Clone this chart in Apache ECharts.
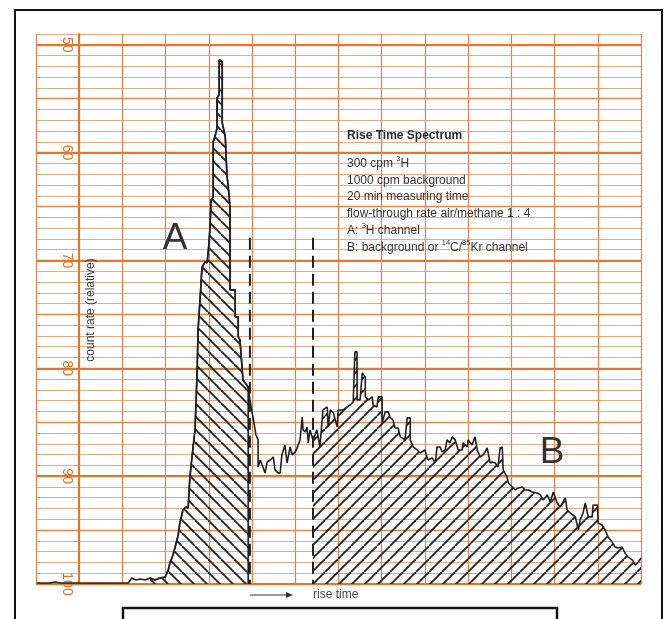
<!DOCTYPE html>
<html>
<head>
<meta charset="utf-8">
<script src="https://cdn.jsdelivr.net/npm/echarts@6/dist/echarts.min.js"></script>
<style>
  html, body { margin: 0; background: #fff; }
  #chart { width: 672px; height: 619px; }
</style>
</head>
<body>
<div id="chart"></div>
<script>
// rise time (chart divisions) / count rate (relative, recorder scale 50..100)
const traceX = [0.02, 0.32, 0.44, 0.56, 1.25, 2.13, 2.22, 2.31, 2.41, 2.52, 2.64, 2.75, 2.87, 2.99, 3.06, 3.10, 3.17, 3.22, 3.29, 3.33,
  3.40, 3.47, 3.52, 3.56, 3.61, 3.68, 3.73, 3.75, 3.80, 3.84, 3.91, 3.96, 4.00, 4.03, 4.05, 4.10, 4.10, 4.14, 4.19, 4.19,
  4.24, 4.24, 4.28, 4.31, 4.31, 4.38, 4.42, 4.44, 4.49, 4.49, 4.61, 4.61, 4.68, 4.68, 4.72, 4.79, 4.91, 4.95, 5.02, 5.09,
  5.14, 5.14, 5.19, 5.25, 5.30, 5.35, 5.42, 5.49, 5.53, 5.60, 5.65, 5.69, 5.76, 5.81, 5.88, 5.93, 6.00, 6.04, 6.11, 6.16,
  6.18, 6.23, 6.27, 6.30, 6.34, 6.41, 6.50, 6.57, 6.64, 6.74, 6.76, 6.81, 6.88, 6.97, 6.99, 7.11, 7.20, 7.27, 7.34, 7.38,
  7.43, 7.43, 7.50, 7.55, 7.62, 7.62, 7.69, 7.78, 7.80, 7.89, 7.92, 8.01, 8.01, 8.08, 8.15, 8.19, 8.26, 8.31, 8.38, 8.43,
  8.54, 8.59, 8.66, 8.66, 8.73, 8.82, 8.89, 9.00, 9.07, 9.17, 9.24, 9.28, 9.35, 9.40, 9.47, 9.51, 9.58, 9.63, 9.70, 9.77,
  9.86, 9.88, 9.98, 10.00, 10.09, 10.16, 10.21, 10.28, 10.35, 10.44, 10.46, 10.51, 10.56, 10.63, 10.69, 10.74, 10.79, 10.81, 10.90, 10.93,
  11.02, 11.09, 11.16, 11.25, 11.32, 11.39, 11.48, 11.60, 11.67, 11.74, 11.83, 11.90, 11.97, 12.01, 12.06, 12.13, 12.25, 12.29, 12.36, 12.48,
  12.55, 12.59, 12.66, 12.71, 12.75, 12.78, 12.87, 12.89, 12.99, 13.01, 13.10, 13.17, 13.24, 13.33, 13.40, 13.47, 13.56, 13.63, 13.70, 13.80,
  13.87, 13.94, 14.00]
const traceY = [99.91, 99.91, 99.81, 99.91, 99.91, 99.91, 99.44, 99.63, 99.54, 99.63, 99.44, 99.63, 99.44, 99.35, 98.70, 98.05, 97.31, 96.57, 95.45, 94.34,
  93.14, 92.86, 92.95, 90.17, 88.22, 85.71, 80.15, 76.44, 73.38, 70.69, 70.13, 70.22, 68.55, 66.70, 64.38, 64.10, 59.00, 58.53, 57.70, 54.92,
  54.64, 51.39, 51.21, 51.58, 57.24, 58.53, 62.24, 62.80, 65.03, 72.73, 72.73, 75.23, 75.23, 77.09, 77.37, 81.08, 81.73, 82.93, 84.51, 86.18,
  86.64, 89.15, 88.50, 89.15, 89.70, 88.68, 88.50, 88.22, 89.42, 89.70, 89.70, 88.03, 87.11, 88.78, 87.29, 88.03, 87.75, 87.38, 86.64, 84.51,
  85.71, 85.90, 85.44, 86.92, 85.71, 86.64, 85.71, 87.29, 83.86, 83.58, 85.44, 83.86, 84.14, 85.44, 83.86, 83.86, 83.58, 83.40, 83.12, 78.48,
  78.48, 82.93, 82.93, 80.43, 80.80, 82.65, 82.93, 82.65, 83.40, 83.58, 82.65, 82.65, 85.06, 84.04, 84.04, 84.51, 84.79, 85.53, 85.53, 86.36,
  86.64, 84.60, 84.60, 86.64, 87.29, 87.57, 87.85, 87.57, 88.50, 88.31, 88.78, 87.29, 87.29, 87.75, 87.57, 86.64, 86.92, 86.36, 86.64, 87.57,
  87.57, 86.92, 87.29, 86.64, 87.11, 86.36, 87.57, 88.22, 88.03, 87.38, 87.29, 88.78, 88.68, 88.78, 89.15, 87.38, 87.29, 89.42, 90.07, 90.63,
  91.00, 91.28, 91.09, 91.00, 91.28, 91.28, 91.47, 91.56, 91.74, 92.21, 91.74, 92.39, 91.47, 91.47, 92.49, 92.86, 92.02, 93.14, 93.41, 93.78,
  94.99, 94.06, 93.41, 92.49, 92.49, 93.78, 93.78, 92.67, 92.67, 94.34, 94.53, 94.99, 95.64, 96.10, 96.57, 96.66, 96.57, 97.12, 97.50, 97.77,
  98.24, 97.96, 97.59]

const windowA = [2.64, 4.91]   // 3H channel
const windowB = [6.41, 14.00]  // background / 14C-85Kr channel
const markerX = [4.95, 6.41]   // dashed channel limits
const markerTop = 67.9
const baseline = 100

const titleText = 'Rise Time Spectrum'
const noteLines = [
  '300 cpm {s|3}H',
  '1000 cpm background',
  '20 min measuring time',
  'flow-through rate air/methane 1 : 4',
  'A: {s|3}H channel',
  'B: background or {s|14}C/{s|85}Kr channel'
]

const orange = '#e0772f'
const font = 'Liberation Sans, Arial, sans-serif'

function hatch(dir) {
  const s = 13
  const c = document.createElement('canvas')
  c.width = s
  c.height = s
  const g = c.getContext('2d')
  g.strokeStyle = '#1f1f1f'
  g.lineWidth = 1.8
  for (const k of [-s, 0, s]) {
    g.beginPath()
    if (dir === 'back') { g.moveTo(k, 0); g.lineTo(k + s, s) }
    else { g.moveTo(k, s); g.lineTo(k + s, 0) }
    g.stroke()
  }
  return c
}

const trace = traceX.map((x, i) => [x, traceY[i]])
const inWin = (w) => trace.filter(p => p[0] >= w[0] && p[0] <= w[1])
const areaA = inWin(windowA).concat([[windowA[1], baseline]])
const areaB = inWin(windowB)

const chart = echarts.init(document.getElementById('chart'))
const hidden = { show: false }
chart.setOption({
  animation: false,
  backgroundColor: '#fff',
  grid: [
    { left: 36, right: 31, top: 34, bottom: 35 },
    { left: 36, right: 31, top: 44.78, bottom: 35 }
  ],
  xAxis: [
    {
      gridIndex: 0, type: 'value', min: 0, max: 14, interval: 1,
      axisLine: hidden, axisTick: hidden, axisLabel: hidden,
      splitLine: { show: true, lineStyle: { color: '#dc8250', width: 1.2 } }
    },
    {
      gridIndex: 1, type: 'value', min: 0, max: 14, interval: 1,
      axisLine: hidden, axisTick: hidden, axisLabel: hidden, splitLine: hidden
    }
  ],
  yAxis: [
    {
      gridIndex: 0, type: 'value', position: 'left', inverse: true, min: 49, max: 100, interval: 1,
      offset: -43.2,
      axisLine: { show: true, lineStyle: { color: orange, width: 2 } },
      axisTick: hidden, axisLabel: hidden,
      splitLine: { show: true, lineStyle: { color: '#e6a985', width: 1 } }
    },
    {
      gridIndex: 1, type: 'value', position: 'left', inverse: true, min: 50, max: 100, interval: 5,
      axisLine: hidden, axisTick: hidden, axisLabel: hidden,
      splitLine: { show: true, lineStyle: { color: '#e4894a', width: 1.4 } }
    },
    {
      gridIndex: 1, type: 'value', position: 'left', inverse: true, min: 50, max: 100, interval: 10,
      offset: -43.2,
      axisLine: hidden, axisTick: hidden,
      axisLabel: { show: true, rotate: -90, margin: 5, color: '#d9742f', fontSize: 14, fontFamily: font },
      splitLine: { show: true, lineStyle: { color: orange, width: 2 } }
    }
  ],
  series: [
    {
      type: 'line', data: areaA, symbol: 'none', z: 3,
      lineStyle: { color: '#1f1f1f', width: 1.6 },
      areaStyle: { origin: 'end', opacity: 1, color: { image: hatch('back'), repeat: 'repeat' } }
    },
    {
      type: 'line', data: areaB, symbol: 'none', z: 3,
      lineStyle: { width: 0 },
      areaStyle: { origin: 'end', opacity: 1, color: { image: hatch('fwd'), repeat: 'repeat' } }
    },
    {
      type: 'line', data: trace, symbol: 'none', z: 4,
      lineStyle: { color: '#1f1f1f', width: 1.6 }
    },
    ...markerX.map(x => ({
      type: 'line', data: [[x, markerTop], [x, baseline]], symbol: 'none', z: 4,
      lineStyle: { color: '#1f1f1f', width: 2, type: [12, 6] }
    }))
  ],
  graphic: [
    { type: 'rect', shape: { x: 15, y: 10, width: 647, height: 640 }, style: { fill: 'none', stroke: '#111', lineWidth: 2 }, z: 10 },
    { type: 'rect', shape: { x: 123, y: 608, width: 434, height: 40 }, style: { fill: '#fff', stroke: '#111', lineWidth: 2.5 }, z: 10 },
    {
      type: 'text', x: 91, y: 310, rotation: Math.PI / 2, z: 10,
      style: { text: 'count rate (relative)', fill: '#3a3a3a', fontSize: 12, fontFamily: font, textAlign: 'center', textVerticalAlign: 'middle' }
    },
    {
      type: 'text', x: 175, y: 239, z: 10,
      style: { text: 'A', fill: '#333', fontSize: 37, fontFamily: font, textAlign: 'center', textVerticalAlign: 'middle' }
    },
    {
      type: 'text', x: 552, y: 453, z: 10,
      style: { text: 'B', fill: '#333', fontSize: 37, fontFamily: font, textAlign: 'center', textVerticalAlign: 'middle' }
    },
    {
      type: 'text', x: 347, y: 136, z: 10,
      style: { text: titleText, fill: '#2a2a2a', fontSize: 12, fontWeight: 'bold', fontFamily: font, textAlign: 'left', textVerticalAlign: 'middle' }
    },
    {
      type: 'text', x: 347, y: 155, z: 10,
      style: {
        text: noteLines.join('\n'), fill: '#333', fontSize: 12, fontFamily: font, lineHeight: 16.8,
        textAlign: 'left', textVerticalAlign: 'top',
        rich: { s: { fontSize: 7.5, lineHeight: 12, verticalAlign: 'top', fill: '#333', fontFamily: font } }
      }
    },
    { type: 'line', shape: { x1: 250, y1: 595, x2: 290, y2: 595 }, style: { stroke: '#333', lineWidth: 1.2 }, z: 10 },
    { type: 'polygon', shape: { points: [[293, 595], [286, 592], [286, 598]] }, style: { fill: '#333' }, z: 10 },
    {
      type: 'text', x: 313, y: 595, z: 10,
      style: { text: 'rise time', fill: '#444', fontSize: 12, fontFamily: font, textAlign: 'left', textVerticalAlign: 'middle' }
    }
  ]
})
</script>
</body>
</html>
